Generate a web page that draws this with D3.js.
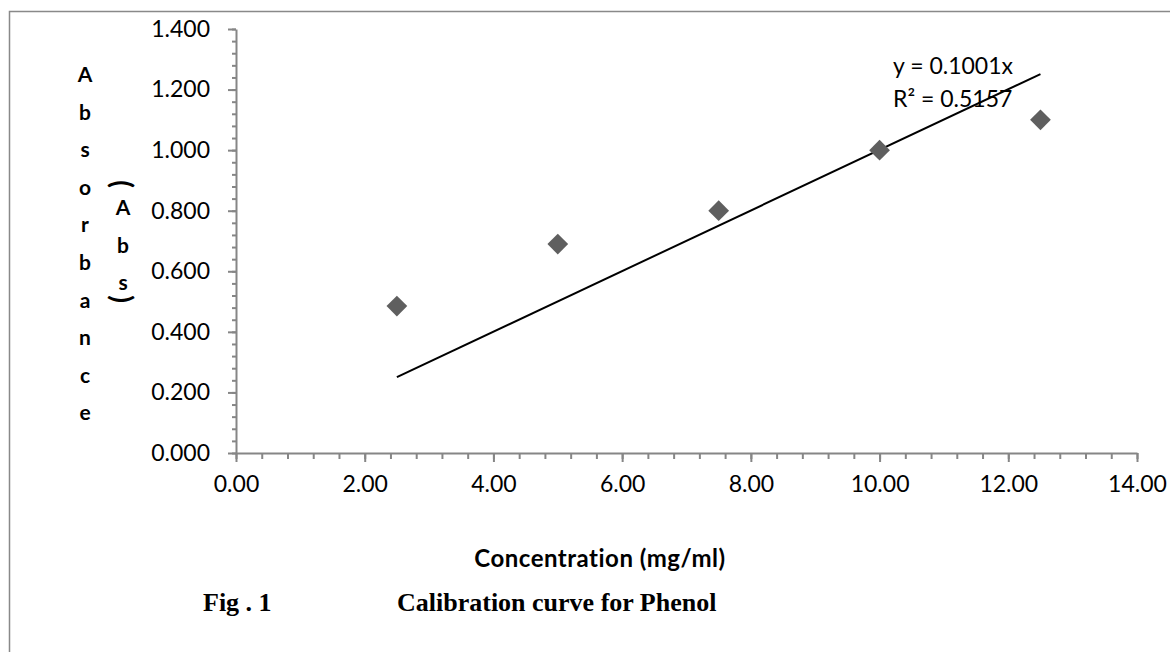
<!DOCTYPE html>
<html>
<head>
<meta charset="utf-8">
<script src="https://cdn.jsdelivr.net/npm/d3@7"></script>
<style>
  body { margin: 0; background: #fff; }
  .axis path, .axis line { stroke: #868686; stroke-width: 2; }
  .axis text { font-family: Lato, "Open Sans", sans-serif; font-size: 23px; fill: #000; }
</style>
</head>
<body>
<script>
// data
const concentration = [2.5, 5.0, 7.5, 10.0, 12.5];
const absorbance = [0.485, 0.690, 0.800, 1.000, 1.100];
const trendSlope = 0.1001;
const trendRange = [2.5, 12.5];
const trendLabels = ['y = 0.1001x', 'R² = 0.5157'];
const xTicks = [0, 2, 4, 6, 8, 10, 12, 14];
const yTicks = [0, 0.2, 0.4, 0.6, 0.8, 1.0, 1.2, 1.4];
const yTitle = 'Absorbance';
const yUnit = 'Abs';

const width = 1170, height = 652;

const svg = d3.select('body').append('svg')
    .attr('width', width)
    .attr('height', height);

// outer chart frame (only top and left edges are visible)
svg.append('path')
    .attr('d', `M9.5,${height} V11.5 H${width}`)
    .attr('fill', 'none')
    .attr('stroke', '#898989')
    .attr('stroke-width', 1.5);

// scales
const xScale = d3.scaleLinear().domain([0, 14]).range([236, 1137]);
const yScale = d3.scaleLinear().domain([0, 1.4]).range([453, 29]);

// minor ticks first
svg.append('g')
    .attr('class', 'axis')
    .attr('transform', `translate(0, ${yScale(0)})`)
    .call(d3.axisBottom(xScale).tickValues(d3.range(0, 14.001, 0.4)).tickSize(6).tickFormat(''))
    .select('.domain').remove();
svg.append('g')
    .attr('class', 'axis')
    .attr('transform', `translate(${xScale(0)}, 0)`)
    .call(d3.axisLeft(yScale).tickValues(d3.range(0, 1.4001, 0.04)).tickSize(4).tickFormat(''))
    .select('.domain').remove();

// major axes
svg.append('g')
    .attr('class', 'axis')
    .attr('transform', `translate(0, ${yScale(0)})`)
    .call(d3.axisBottom(xScale).tickValues(xTicks).tickSize(9).tickSizeOuter(0).tickPadding(14).tickFormat(d3.format('.2f')));
svg.append('g')
    .attr('class', 'axis')
    .attr('transform', `translate(${xScale(0)}, 0)`)
    .call(d3.axisLeft(yScale).tickValues(yTicks).tickSize(8).tickSizeOuter(0).tickPadding(18).tickFormat(d3.format('.3f')));

// trend line
svg.append('line')
    .attr('x1', xScale(trendRange[0]))
    .attr('y1', yScale(trendSlope * trendRange[0]))
    .attr('x2', xScale(trendRange[1]))
    .attr('y2', yScale(trendSlope * trendRange[1]))
    .attr('stroke', '#000')
    .attr('stroke-width', 2);

// diamond markers
svg.selectAll('.pt')
    .data(concentration)
    .enter()
  .append('path')
    .attr('class', 'pt')
    .attr('d', d3.symbol(d3.symbolSquare, 215))
    .attr('transform', (d, i) => `translate(${xScale(d)}, ${yScale(absorbance[i])}) rotate(45)`)
    .attr('fill', '#5f5f5f');

// trend equation
svg.selectAll('.eq')
    .data(trendLabels)
    .enter()
  .append('text')
    .attr('class', 'eq')
    .attr('x', 893)
    .attr('y', (d, i) => 74 + i * 33)
    .style('font-family', 'Lato, "Open Sans", sans-serif')
    .style('font-size', '23px')
    .text(d => d);

// y-axis title, letters stacked
svg.selectAll('.ytitle')
    .data(yTitle.split(''))
    .enter()
  .append('text')
    .attr('class', 'ytitle')
    .attr('x', 85)
    .attr('y', (d, i) => 82 + i * 37.6)
    .attr('text-anchor', 'middle')
    .style('font-family', 'Lato, sans-serif')
    .style('font-weight', 'bold')
    .style('font-size', '21px')
    .text(d => d);

svg.selectAll('.yunit')
    .data(yUnit.split(''))
    .enter()
  .append('text')
    .attr('class', 'yunit')
    .attr('x', 123)
    .attr('y', (d, i) => 215 + i * 37.6)
    .attr('text-anchor', 'middle')
    .style('font-family', 'Lato, sans-serif')
    .style('font-weight', 'bold')
    .style('font-size', '21px')
    .text(d => d);

// brackets around the unit, turned sideways
[['(', 184], [')', 299]].forEach(([ch, cy]) => {
  svg.append('g')
      .attr('transform', `translate(122, ${cy}) rotate(90)`)
    .append('text')
      .attr('text-anchor', 'middle')
      .attr('dy', '0.35em')
      .style('font-family', 'Lato, sans-serif')
      .style('font-weight', 'bold')
      .style('font-size', '28px')
      .text(ch);
});

// x-axis title
svg.append('text')
    .attr('x', 600)
    .attr('y', 567)
    .attr('text-anchor', 'middle')
    .style('font-family', 'Lato, sans-serif')
    .style('font-weight', 'bold')
    .style('font-size', '24px')
    .style('letter-spacing', '0.5px')
    .text('Concentration (mg/ml)');

// figure caption
svg.append('text')
    .attr('x', 203)
    .attr('y', 611)
    .style('font-family', '"Liberation Serif", "Times New Roman", serif')
    .style('font-weight', 'bold')
    .style('font-size', '26px')
    .text('Fig . 1');
svg.append('text')
    .attr('x', 397)
    .attr('y', 611)
    .style('font-family', '"Liberation Serif", "Times New Roman", serif')
    .style('font-weight', 'bold')
    .style('font-size', '26px')
    .text('Calibration curve for Phenol');
</script>
</body>
</html>
